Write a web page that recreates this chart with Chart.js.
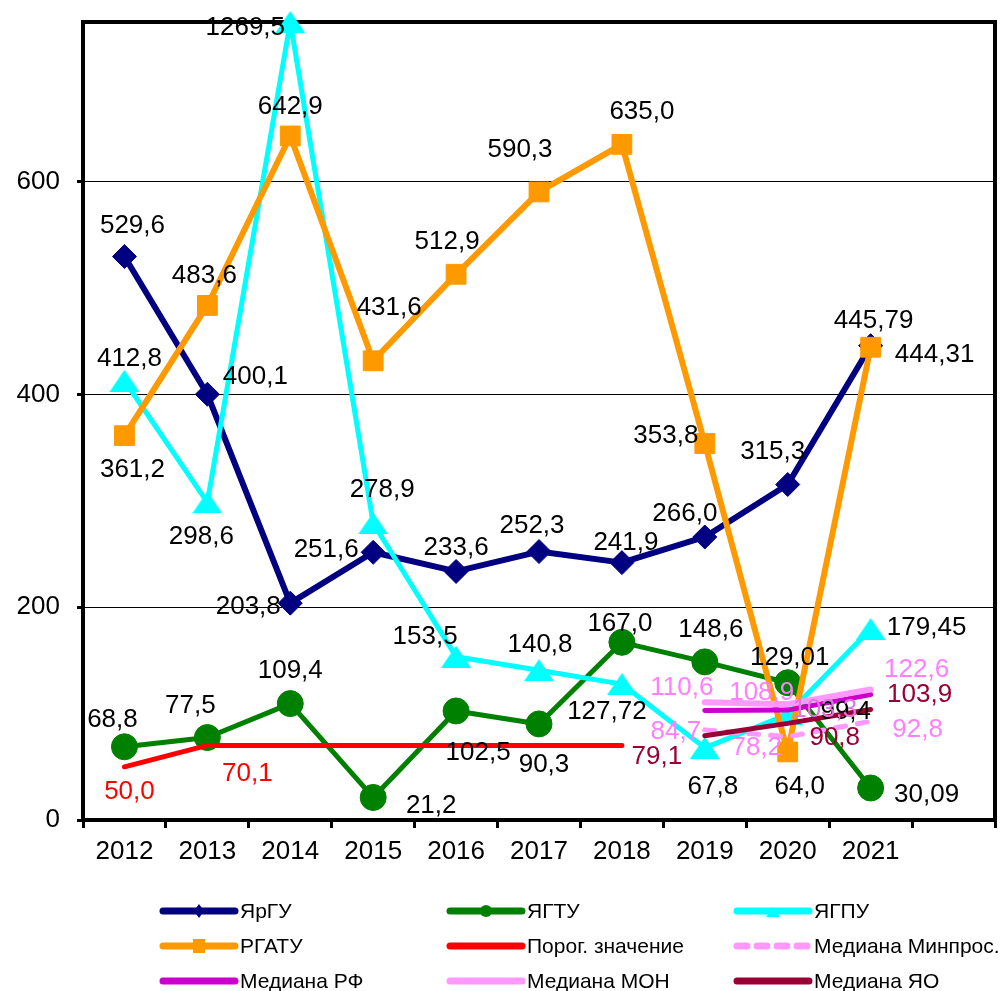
<!DOCTYPE html>
<html>
<head>
<meta charset="utf-8">
<script src="https://cdn.jsdelivr.net/npm/chart.js@4.4.0/dist/chart.umd.min.js"></script>
<style>
  html, body { margin: 0; padding: 0; background: #fff; }
  #wrap { width: 1005px; height: 991px; }
</style>
</head>
<body>
<div id="wrap"><canvas id="chart" width="1005" height="991"></canvas></div>
<script>
// categories (last slot is empty, as in the original)
const years = ['2012', '2013', '2014', '2015', '2016', '2017', '2018', '2019', '2020', '2021', ''];

// series values
const yrgu   = [529.6, 400.1, 203.8, 251.6, 233.6, 252.3, 241.9, 266.0, 315.3, 445.79, null];
const ygtu   = [68.8, 77.5, 109.4, 21.2, 102.5, 90.3, 167.0, 148.6, 129.01, 30.09, null];
const ygpu   = [412.8, 298.6, 1269.5, 278.9, 153.5, 140.8, 127.72, 67.8, 99.4, 179.45, null];
const rgatu  = [361.2, 483.6, 642.9, 431.6, 512.9, 590.3, 635.0, 353.8, 64.0, 444.31, null];
const porog  = [50.0, 70.1, 70.1, 70.1, 70.1, 70.1, 70.1, null, null, null, null];
const medMinpros = [null, null, null, null, null, null, null, 84.7, 78.2, 92.8, null];
const medRF  = [null, null, null, null, null, null, null, 102.9, 103.3, 118.0, null];
const medMON = [null, null, null, null, null, null, null, 110.6, 108.9, 122.6, null];
const medYO  = [null, null, null, null, null, null, null, 79.1, 90.8, 103.9, null];

// y axis
const Y_MAX = 750;
const Y_STEP = 200;

// where each value label sits relative to its point (dx, dy); null = no label
const yrguPos  = [[8,-31],[48,-17],[-42,4],[-47,-2],[0,-24],[-7,-26],[4,-20],[-20,-23],[-15,-33],[3,-25]];
const ygtuPos  = [[-12,-27],[-17,-32],[0,-33],[58,8],[22,42],[5,41],[-2,-18],[6,-32],[2,-25],[56,7]];
const ygpuPos  = [[5,-22],[-6,35],[-45,6],[9,-33],[-31,-20],[1,-25],[-15,28],[8,39],[58,-2],[56,-1]];
const rgatuPos = [[8,34],[-3,-30],[0,-29],[16,-53],[-9,-32],[-19,-42],[20,-33],[-39,-8],[12,35],[64,8]];
const porogPos = [[5,25],[40,28]];
const minprosPos = [null,null,null,null,null,null,null,[-29,2],[-31,11],[47,9]];
const rfPos      = [null,null,null,null,null,null,null,null,[37,0],null];
const monPos     = [null,null,null,null,null,null,null,[-23,-14],[-26,-11],[46,-20]];
const yoPos      = [null,null,null,null,null,null,null,[-48,21],[47,14],[49,-15]];

const FONT = '"Liberation Sans", Arial, sans-serif';

function fmt(v) {
  const one = Math.abs(Math.round(v * 10) - v * 10) < 1e-6;
  return v.toFixed(one ? 1 : 2).replace('.', ',');
}

function clampVals(arr) {
  return arr.map(v => v == null ? null : Math.min(v, Y_MAX));
}

function triangle(w, h, color) {
  const c = document.createElement('canvas');
  c.width = w; c.height = h;
  const g = c.getContext('2d');
  g.fillStyle = color;
  g.beginPath();
  g.moveTo(w / 2, 0); g.lineTo(w, h); g.lineTo(0, h);
  g.closePath(); g.fill();
  return c;
}

function series(label, values, color, opts) {
  return Object.assign({
    label: label,
    data: clampVals(values),
    rawValues: values,
    borderColor: color,
    backgroundColor: color,
    pointBackgroundColor: color,
    pointBorderColor: color,
    borderWidth: 5,
    borderCapStyle: 'round',
    borderJoinStyle: 'round',
    pointRadius: 0,
    pointBorderWidth: 1,
    tension: 0,
    clip: false,
    labelColor: '#000',
    labelPos: []
  }, opts);
}

const datasets = [
  series('ЯрГУ', yrgu, '#000080', { borderWidth: 6, pointStyle: 'rectRot', pointRadius: 12, legendMarker: 'diamond', labelPos: yrguPos }),
  series('ЯГТУ', ygtu, '#008000', { pointStyle: 'circle', pointRadius: 13, legendMarker: 'circle', labelPos: ygtuPos }),
  series('ЯГПУ', ygpu, '#00ffff', { pointStyle: triangle(30, 22, '#00ffff'), pointRadius: 12, legendMarker: 'triangle', labelPos: ygpuPos }),
  series('РГАТУ', rgatu, '#ff9900', { borderWidth: 6, pointStyle: 'rect', pointRadius: 14, legendMarker: 'square', labelPos: rgatuPos }),
  series('Порог. значение', porog, '#ff0000', { labelColor: '#ff0000', labelPos: porogPos }),
  series('Медиана Минпрос.', medMinpros, '#ff99ff', { borderDash: [10, 12], labelColor: '#ff80ff', labelPos: minprosPos }),
  series('Медиана РФ', medRF, '#cc00cc', { labelColor: '#dd77dd', labelPos: rfPos }),
  series('Медиана МОН', medMON, '#ff99ff', { borderWidth: 6, labelColor: '#ff80ff', labelPos: monPos }),
  series('Медиана ЯО', medYO, '#990033', { labelColor: '#990033', labelPos: yoPos })
];
// later series are painted on top, like the original
datasets.forEach((d, i) => { d.order = -i; });

const frame = {
  id: 'frame',
  beforeDatasetsDraw(chart) {
    const a = chart.chartArea, ctx = chart.ctx;
    ctx.save();
    ctx.strokeStyle = '#000';
    ctx.lineWidth = 4;
    ctx.strokeRect(a.left, a.top, a.right - a.left, a.bottom - a.top);
    ctx.restore();
  }
};

const valueLabels = {
  id: 'valueLabels',
  afterDatasetsDraw(chart) {
    const ctx = chart.ctx;
    ctx.save();
    ctx.font = '26px ' + FONT;
    ctx.textAlign = 'center';
    ctx.textBaseline = 'middle';
    chart.data.datasets.forEach((ds, i) => {
      const meta = chart.getDatasetMeta(i);
      ds.labelPos.forEach((p, j) => {
        if (!p || ds.rawValues[j] == null) return;
        const pt = meta.data[j];
        ctx.fillStyle = ds.labelColor;
        ctx.fillText(fmt(ds.rawValues[j]), pt.x + p[0], pt.y + p[1]);
      });
    });
    ctx.restore();
  }
};

const legendCols = [163, 450, 737];
const legendRows = [911, 946, 981];
const legendGrid = {
  id: 'legendGrid',
  afterDraw(chart) {
    const ctx = chart.ctx;
    ctx.save();
    chart.data.datasets.forEach((ds, i) => {
      const x0 = legendCols[i % 3], y = legendRows[Math.floor(i / 3)];
      const x1 = x0 + 72, xm = (x0 + x1) / 2;
      ctx.strokeStyle = ds.borderColor;
      ctx.lineWidth = 7;
      ctx.lineCap = 'round';
      ctx.setLineDash(ds.borderDash ? [10, 10] : []);
      ctx.beginPath(); ctx.moveTo(x0, y); ctx.lineTo(x1, y); ctx.stroke();
      ctx.setLineDash([]);
      ctx.fillStyle = ds.borderColor;
      ctx.beginPath();
      if (ds.legendMarker === 'diamond') {
        ctx.moveTo(xm, y - 7); ctx.lineTo(xm + 5, y); ctx.lineTo(xm, y + 7); ctx.lineTo(xm - 5, y);
      } else if (ds.legendMarker === 'circle') {
        ctx.arc(xm, y, 6, 0, Math.PI * 2);
      } else if (ds.legendMarker === 'triangle') {
        ctx.moveTo(xm, y - 4); ctx.lineTo(xm + 7, y + 6); ctx.lineTo(xm - 7, y + 6);
      } else if (ds.legendMarker === 'square') {
        ctx.rect(xm - 6, y - 7, 12, 14);
      }
      ctx.closePath(); ctx.fill();
      ctx.fillStyle = '#000';
      ctx.font = '21px ' + FONT;
      ctx.textAlign = 'left';
      ctx.textBaseline = 'middle';
      ctx.fillText(ds.label, x1 + 5, y + 1);
    });
    ctx.restore();
  }
};

new Chart(document.getElementById('chart'), {
  type: 'line',
  data: { labels: years, datasets: datasets },
  plugins: [frame, valueLabels, legendGrid],
  options: {
    responsive: false,
    animation: false,
    devicePixelRatio: 1,
    layout: { autoPadding: false, padding: { top: 22, right: 10, left: 0, bottom: 0 } },
    plugins: { legend: { display: false }, tooltip: { enabled: false } },
    scales: {
      x: {
        type: 'category',
        offset: true,
        border: { display: false },
        grid: { offset: true, drawOnChartArea: false, drawTicks: true, tickLength: 8, tickWidth: 3, tickColor: '#000' },
        ticks: { font: { family: FONT, size: 26 }, color: '#000', padding: 8, maxRotation: 0, autoSkip: false },
        afterFit: s => { s.height = 171; s.paddingLeft = 0; s.paddingRight = 0; }
      },
      y: {
        min: 0,
        max: Y_MAX,
        border: { display: false },
        grid: { color: '#000', lineWidth: 1, drawTicks: true, tickLength: 6, tickWidth: 3, tickColor: '#000' },
        ticks: { stepSize: Y_STEP, includeBounds: false, font: { family: FONT, size: 26 }, color: '#000', padding: 17 },
        afterFit: s => { s.width = 83; s.paddingTop = 0; s.paddingBottom = 0; }
      }
    }
  }
});
</script>
</body>
</html>
